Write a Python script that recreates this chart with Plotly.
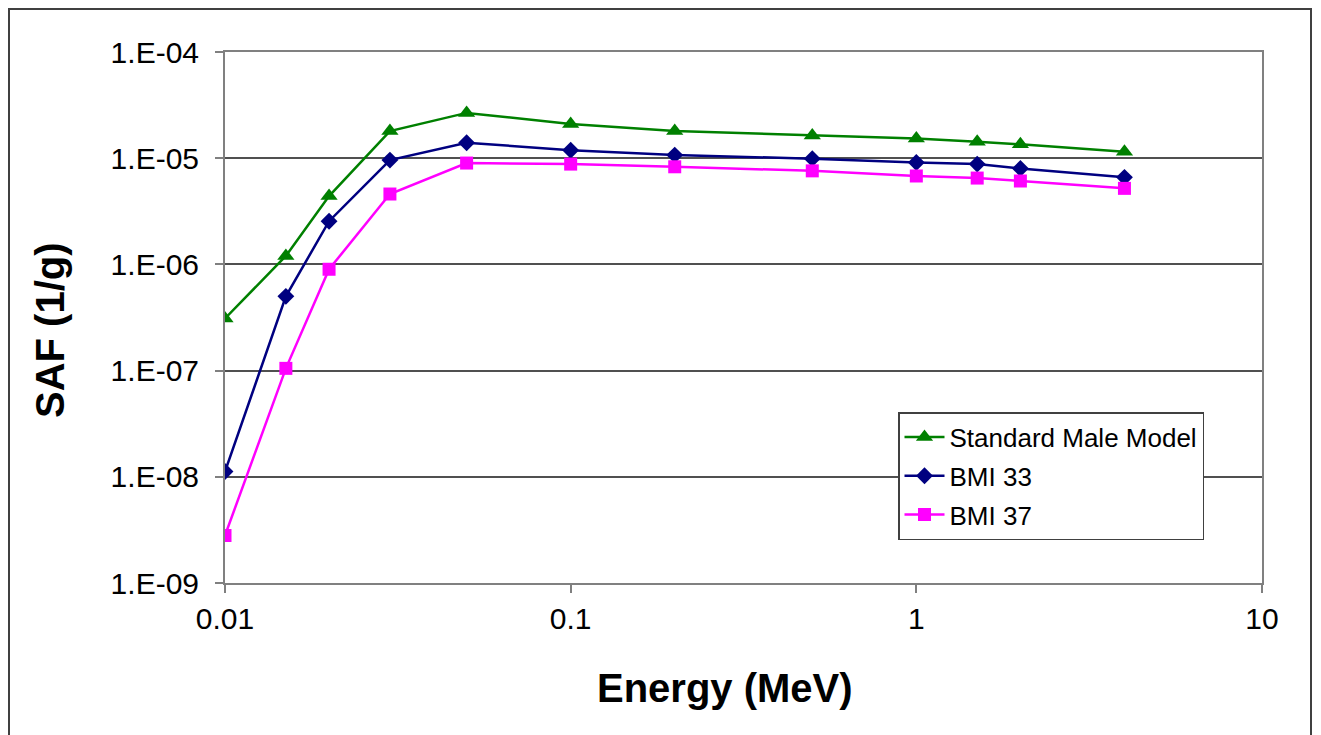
import plotly.graph_objects as go

energy = [0.01, 0.015, 0.02, 0.03, 0.05, 0.1, 0.2, 0.5, 1, 1.5, 2, 4]
standard_male = [3.1e-7, 1.2e-6, 4.4e-6, 1.8e-5, 2.67e-5, 2.1e-5, 1.8e-5, 1.64e-5, 1.53e-5, 1.43e-5, 1.35e-5, 1.15e-5]
bmi33 = [1.12e-8, 5.0e-7, 2.55e-6, 9.6e-6, 1.4e-5, 1.19e-5, 1.07e-5, 9.9e-6, 9.1e-6, 8.8e-6, 8.0e-6, 6.6e-6]
bmi37 = [2.8e-9, 1.05e-7, 9.0e-7, 4.6e-6, 9.0e-6, 8.8e-6, 8.3e-6, 7.6e-6, 6.8e-6, 6.5e-6, 6.1e-6, 5.2e-6]

series_names = ["Standard Male Model", "BMI 33", "BMI 37"]
y_tickvals = [1e-9, 1e-8, 1e-7, 1e-6, 1e-5, 1e-4]
y_ticktext = ["1.E-09", "1.E-08", "1.E-07", "1.E-06", "1.E-05", "1.E-04"]
x_tickvals = [0.01, 0.1, 1, 10]
x_ticktext = ["0.01", "0.1", "1", "10"]
x_title = "Energy (MeV)"
y_title = "SAF (1/g)"

FONT = "Liberation Sans, Arial, sans-serif"
fig = go.Figure()
styles = [
    dict(color="#008000", symbol="triangle-up", size=15),
    dict(color="#000080", symbol="diamond", size=13),
    dict(color="#FF00FF", symbol="square", size=13),
]
for i, (name, ys, st) in enumerate(zip(series_names, [standard_male, bmi33, bmi37], styles)):
    fig.add_trace(go.Scatter(
        x=energy, y=ys, name=name, mode="lines+markers",
        line=dict(color=st["color"], width=2.5),
        marker=dict(color=st["color"], symbol=st["symbol"], size=st["size"]),
        legendgroup=f"g{i}",
    ))

# plot area (figure px): left 217, right 1254, top 44, bottom 575
L, R, T, B = 217, 1254, 44, 575
PW, PH = R - L, B - T

def px(x):
    return (x - L) / PW

def py(y):
    return (B - y) / PH

axis_color = "#808080"
fig.update_layout(
    width=1321, height=735,
    margin=dict(l=L, r=1321 - R, t=T, b=735 - B),
    paper_bgcolor="white", plot_bgcolor="white",
    font=dict(family=FONT, color="black"),
    showlegend=True,
    legend=dict(
        x=px(890), y=py(404), xanchor="left", yanchor="top",
        bgcolor="white", bordercolor="#404040", borderwidth=1.5,
        font=dict(size=26, family=FONT, color="black"),
        traceorder="grouped", tracegroupgap=2,
        itemwidth=40,
    ),
    xaxis=dict(
        type="log", range=[-2, 1],
        tickvals=x_tickvals, ticktext=x_ticktext,
        tickfont=dict(size=30, family=FONT),
        ticks="outside", ticklen=8, tickcolor=axis_color, tickwidth=1.5,
        showline=True, linecolor=axis_color, linewidth=2, mirror=True,
        showgrid=False, zeroline=False,
    ),
    yaxis=dict(
        type="log", range=[-9, -4],
        tickvals=y_tickvals, ticktext=y_ticktext,
        tickfont=dict(size=30, family=FONT),
        ticks="outside", ticklen=8, tickcolor=axis_color, tickwidth=1.5,
        ticklabelstandoff=10,
        showline=True, linecolor=axis_color, linewidth=2, mirror=True,
        showgrid=True, gridcolor="#505050", gridwidth=1.5,
        zeroline=False,
    ),
    annotations=[
        dict(text=f"<b>{x_title}</b>", xref="paper", yref="paper",
             x=px(717), y=py(680), xanchor="center", yanchor="middle",
             showarrow=False, font=dict(size=40, family=FONT, color="black")),
        dict(text=f"<b>{y_title}</b>", xref="paper", yref="paper",
             x=px(42), y=py(322), xanchor="center", yanchor="middle", textangle=-90,
             showarrow=False, font=dict(size=40, family=FONT, color="black")),
    ],
    shapes=[dict(
        type="rect", xref="paper", yref="paper",
        x0=px(1), x1=px(1303), y0=py(745), y1=py(1),
        line=dict(color="#404040", width=2), fillcolor="rgba(0,0,0,0)", layer="below",
    )],
)

fig.write_html("out.html")
